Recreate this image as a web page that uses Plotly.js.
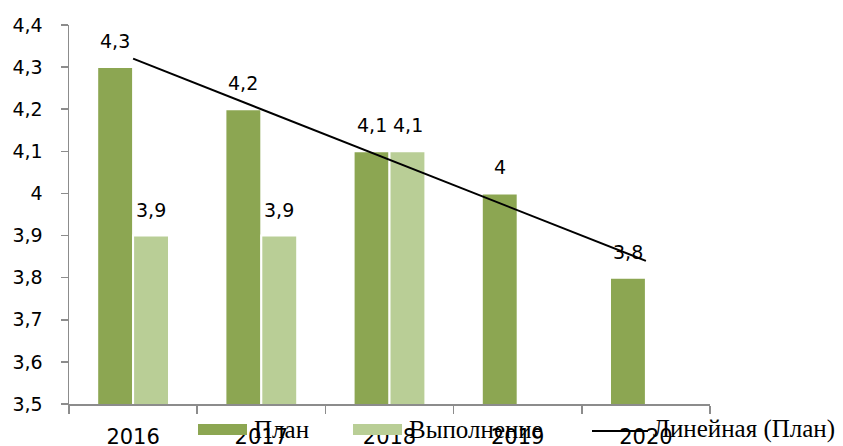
<!DOCTYPE html>
<html>
<head>
<meta charset="utf-8">
<script src="https://cdn.plot.ly/plotly-3.0.1.min.js"></script>
<style>html,body{margin:0;padding:0;background:#fff;}#chart{width:843px;height:446px;}</style>
</head>
<body>
<div id="chart"></div>
<script>
// ---- data ----
const years = ["2016", "2017", "2018", "2019", "2020"];
const planValues = [4.3, 4.2, 4.1, 4.0, 3.8];
const actualValues = [3.9, 3.9, 4.1, null, null];
const trendValues = [4.32, 4.20, 4.08, 3.96, 3.84];
const seriesNames = ["План", "Выполнение", "Линейная (План)"];
const yTickValues = [3.5, 3.6, 3.7, 3.8, 3.9, 4.0, 4.1, 4.2, 4.3, 4.4];
const yTickLabels = ["3,5", "3,6", "3,7", "3,8", "3,9", "4", "4,1", "4,2", "4,3", "4,4"];

// ---- styling ----
const planColor = "#8CA652";
const actualColor = "#B9CE96";
const axisColor = "#8C8C8C";
const sansFont = "DejaVu Sans, sans-serif";
const serifFont = "Liberation Serif, Times New Roman, serif";

// plot area in pixels
const W = 843, H = 446;
const L = 69, R = 710, T = 25, B = 404;
const px = x => (x - L) / (R - L);
const py = y => (B - y) / (B - T);

const fmt = v => String(v).replace('.', ',');

const traces = [
  {
    type: "bar", name: seriesNames[0], x: years, y: planValues,
    marker: {color: planColor, line: {color: "#ffffff", width: 2}},
    hoverinfo: "none", showlegend: false
  },
  {
    type: "bar", name: seriesNames[1], x: years, y: actualValues,
    marker: {color: actualColor, line: {color: "#ffffff", width: 2}},
    hoverinfo: "none", showlegend: false
  },
  {
    type: "scatter", mode: "lines", name: seriesNames[2], x: years, y: trendValues,
    line: {color: "#000000", width: 2}, hoverinfo: "none", showlegend: false
  }
];

const annotations = [];
const addLabels = (vals, shift) => {
  vals.forEach((v, i) => {
    if (v === null || v === undefined) return;
    annotations.push({
      x: i, y: v, xref: "x", yref: "y", xshift: shift, yshift: 26,
      text: fmt(v), showarrow: false, xanchor: "center", yanchor: "middle",
      font: {family: sansFont, size: 19, color: "#000"}
    });
  });
};
addLabels(planValues, -18);
addLabels(actualValues, 18);

// custom legend
const shapes = [];
const legendItems = [
  {kind: "rect", color: planColor, sx0: 198, sx1: 247, tx: 252},
  {kind: "rect", color: actualColor, sx0: 353, sx1: 402, tx: 407},
  {kind: "line", color: "#000000", sx0: 592, sx1: 648, tx: 651}
];
legendItems.forEach((it, i) => {
  if (it.kind === "rect") {
    shapes.push({type: "rect", xref: "paper", yref: "paper",
      x0: px(it.sx0), x1: px(it.sx1), y0: py(424), y1: py(435),
      fillcolor: it.color, line: {width: 0}, layer: "above"});
  } else {
    shapes.push({type: "line", xref: "paper", yref: "paper",
      x0: px(it.sx0), x1: px(it.sx1), y0: py(431), y1: py(431),
      line: {color: it.color, width: 2}, layer: "above"});
  }
  annotations.push({
    xref: "paper", yref: "paper", x: px(it.tx), y: py(429),
    xanchor: "left", yanchor: "middle", showarrow: false,
    text: seriesNames[i], font: {family: serifFont, size: 25, color: "#000"}
  });
});

const layout = {
  width: W, height: H,
  margin: {l: L, r: W - R, t: T, b: H - B, pad: 0},
  paper_bgcolor: "#ffffff", plot_bgcolor: "#ffffff",
  showlegend: false,
  barmode: "group", bargap: 0.44, bargroupgap: 0,
  font: {family: sansFont, color: "#000"},
  xaxis: {
    type: "category", range: [-0.5, 4.5], showgrid: false, zeroline: false,
    showline: true, linecolor: axisColor, linewidth: 1.5,
    ticks: "outside", tickson: "boundaries", ticklen: 8, tickcolor: axisColor, tickwidth: 1.5,
    tickfont: {family: sansFont, size: 21, color: "#000"}, tickangle: 0,
    ticklabelstandoff: 13, fixedrange: true
  },
  yaxis: {
    range: [3.5, 4.4], tickmode: "array", tickvals: yTickValues, ticktext: yTickLabels,
    showgrid: false, zeroline: false,
    showline: true, linecolor: axisColor, linewidth: 1.5,
    ticks: "outside", ticklen: 7, tickcolor: axisColor, tickwidth: 1.5,
    tickfont: {family: sansFont, size: 19, color: "#000"},
    ticklabelstandoff: 14, fixedrange: true
  },
  annotations: annotations,
  shapes: shapes
};

Plotly.newPlot("chart", traces, layout, {displayModeBar: false, staticPlot: true});
</script>
</body>
</html>
